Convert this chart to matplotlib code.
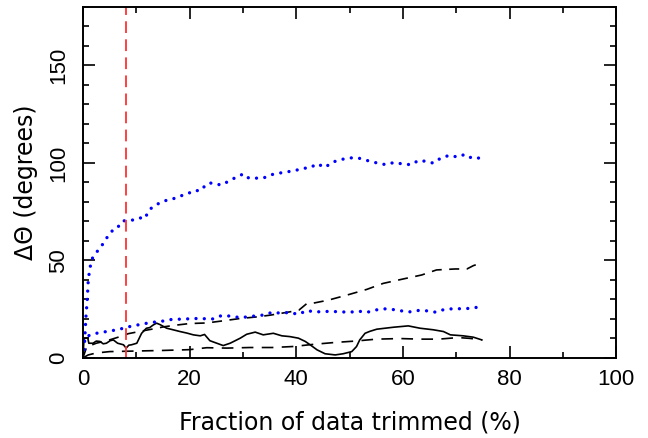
import matplotlib
matplotlib.use("Agg")
import matplotlib.pyplot as plt
from matplotlib.ticker import MultipleLocator

plt.rcParams['font.family'] = ['Liberation Sans', 'DejaVu Sans']

# trimmed fraction (%) vs angle offset (degrees) for each estimator
solid_x = [0, 0.2, 0.9, 1.1, 1.9, 2.5, 3.2, 3.8, 4.4, 5.1, 5.7, 6.5, 7.6, 8.1, 8.6, 9.1, 10.1,
           11.0, 11.9, 12.5, 13.2, 13.8, 14.5, 15.7, 16.9, 18.2, 19.5, 20.7, 22.0, 22.8, 23.8,
           25.1, 26.3, 27.6, 29.5, 30.7, 32.3, 33.8, 35.7, 37.3, 38.8, 40.4, 41.7, 42.6, 43.9,
           45.4, 47.3, 48.8, 50.4, 51.3, 51.9, 52.9, 53.8, 55.1, 58.2, 61.0, 63.2, 65.7, 67.6,
           68.9, 71.3, 73.2, 74.8]
solid_y = [0, 10.0, 10.3, 7.5, 7.5, 8.6, 8.4, 7.2, 7.5, 8.8, 9.2, 7.5, 6.7, 5.0, 6.5, 6.7, 7.5,
           12.6, 15.2, 15.5, 16.9, 17.8, 17.0, 15.2, 14.4, 13.5, 12.7, 11.8, 11.3, 12.0, 8.8,
           7.5, 6.3, 7.5, 10.1, 12.1, 13.2, 11.8, 12.6, 11.3, 10.9, 10.1, 8.4, 6.7, 4.1,
           2.1, 1.5, 2.1, 3.2, 5.8, 9.2, 12.6, 13.6, 14.7, 15.7, 16.4, 15.2, 14.4, 13.5,
           11.8, 11.3, 10.6, 9.2]

blue_hi_x = [0, 0.1, 0.4, 0.56, 0.8, 1.0, 1.3, 1.75, 2.4, 3.1, 4.0, 4.9, 5.7, 6.4, 7.3, 8.3,
             9.8, 11.0, 11.6, 12.4, 12.9, 13.8, 15.1, 16.6, 18.0, 19.5, 20.7, 22.1, 23.2, 24.3,
             25.9, 27.1, 28.6, 30.1, 31.1, 33.8, 35.2, 36.5, 38.1, 39.6, 41.1, 42.6, 43.9,
             45.4, 46.7, 48.2, 49.7, 51.2, 52.5, 53.8, 55.3, 56.8, 58.4, 60.0, 61.6, 62.9,
             64.4, 65.7, 67.1, 68.7, 70.3, 71.6, 73.1, 74.8]
blue_hi_y = [0, 2, 12.6, 21, 29.6, 40, 46, 51, 53.7, 56, 59.4, 63.5, 65.7, 66.4, 70, 70.7,
             70.7, 72, 71.5, 75.7, 77, 78.6, 80.5, 81.2, 82.9, 83.9, 85.8, 85.8, 89.3, 89.8,
             88.6, 90.3, 92.5, 94.4, 92.2, 92.2, 93.9, 94.6, 95.4, 95.9, 97.2, 97.5, 99.6,
             97.7, 100.3, 101.6, 102.5, 102.7, 102, 100.8, 99.9, 99.1, 100.3, 99.4, 99.1, 101.3,
             100.8, 99.9, 102.5, 103.9, 103, 104.4, 102.2, 102.7]

blue_lo_x = [0, 0.2, 0.4, 1.3, 2.25, 3.5, 4.75, 6.0, 7.3, 8.5, 9.8, 11.0, 12.3, 13.8, 15.4,
             16.6, 17.9, 19.1, 20.7, 21.9, 23.5, 24.4, 26.0, 27.8, 29.3, 30.9, 32.5, 34.0,
             35.5, 37.1, 38.7, 40.4, 42.0, 43.5, 45.1, 46.7, 48.4, 50.1, 51.6, 53.2, 54.8,
             56.3, 58.1, 59.7, 61.4, 62.9, 64.6, 66.2, 67.7, 69.4, 71.0, 72.7, 74.5]
blue_lo_y = [0, 6, 10.7, 11.6, 12.5, 13, 13.7, 14.2, 15, 15.9, 16.6, 17.3, 17.9, 18.5, 19,
             19.7, 19.8, 20, 20, 20.4, 19.8, 20, 21.7, 21.4, 20.7, 21, 21.6, 22,
             23.4, 22.9, 23.3, 22.3, 24.3, 23.5, 23.8, 23.8, 23.6, 23.4, 24, 23.3, 24.5,
             25.2, 24.8, 24.1, 23.6, 24.3, 24.1, 23.4, 24.8, 25.2, 25.2, 25.4, 26.2]

dash_hi_x = [0, 0.7, 2.5, 4.75, 6.5, 8.5, 10, 11.9, 13.5, 15.1, 17.5, 20, 23.2, 26.3, 29.5,
             32.6, 35.1, 38.8, 40.5, 42, 42.9, 46, 49.5, 53.2, 56.3, 60.1, 63.5, 66.3, 69.8,
             72, 73.2, 74.8]
dash_hi_y = [0, 5.6, 7.5, 9, 10.5, 12.4, 13.2, 14.2, 15, 15.9, 16.8, 17.6, 17.9, 19, 20.2,
             21, 21.9, 23.6, 24.5, 27.9, 27.9, 29.6, 32.2, 35.1, 38.2, 40.5, 42.5, 45.1, 45.6,
             45.6, 47.3, 48.8]

dash_lo_x = [0, 1, 2.5, 5, 10, 15, 20, 23.2, 27, 31.3, 35.5, 39.3, 43.5, 47.3, 51, 55.1,
             59.5, 63.2, 66.7, 70.4, 72.5, 74.8]
dash_lo_y = [0, 1.5, 2.5, 3.2, 3.5, 3.8, 4.2, 5.2, 5, 5.3, 5.3, 5.8, 7, 7.9, 8.6, 9.6,
             9.9, 9.6, 9.6, 10.4, 10, 9.2]

cut_x = 8.0

fig = plt.figure(figsize=(6.48, 4.38), dpi=100)
ax = fig.add_axes([0.128, 0.183, 0.823, 0.801])

ax.plot(solid_x, solid_y, color='black', lw=1.2)
ax.plot(dash_hi_x, dash_hi_y, color='black', lw=1.2, dashes=(6, 4.5))
ax.plot(dash_lo_x, dash_lo_y, color='black', lw=1.2, dashes=(7, 5))
ax.plot(blue_hi_x, blue_hi_y, color='#0000ff', lw=2.4, dashes=(0.01, 2.5),
        dash_capstyle='round')
ax.plot(blue_lo_x, blue_lo_y, color='#0000ff', lw=2.4, dashes=(0.01, 2.5),
        dash_capstyle='round')
ax.axvline(cut_x, color='#ff3333', lw=1.3, dashes=(6.5, 3.5))

ax.set_xlim(0, 100)
ax.set_ylim(0, 180)
ax.xaxis.set_major_locator(MultipleLocator(20))
ax.xaxis.set_minor_locator(MultipleLocator(10))
ax.yaxis.set_major_locator(MultipleLocator(50))
ax.yaxis.set_minor_locator(MultipleLocator(10))
ax.tick_params(which='both', direction='in', top=True, right=True, width=1.2, labelsize=16)
ax.tick_params(which='major', length=8.5)
ax.tick_params(which='minor', length=4.3)
ax.tick_params(axis='x', pad=8)
ax.tick_params(axis='y', pad=10)
for lab in ax.get_yticklabels():
    lab.set_rotation(90)
    lab.set_va('center')
for s in ax.spines.values():
    s.set_linewidth(1.4)

ax.set_xlabel('Fraction of data trimmed (%)', fontsize=17, family='DejaVu Sans', labelpad=15)
ax.set_ylabel('ΔΘ (degrees)', fontsize=17, family='DejaVu Sans', labelpad=7)

fig.savefig('out.png', dpi=100)
